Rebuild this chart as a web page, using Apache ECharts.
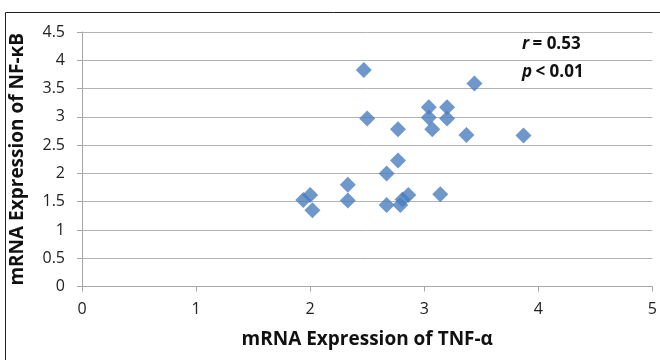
<!DOCTYPE html>
<html>
<head>
<meta charset="utf-8">
<script src="https://cdn.jsdelivr.net/npm/echarts@6/dist/echarts.min.js"></script>
<style>
  html, body { margin: 0; padding: 0; background: #fff; }
  #chart { width: 660px; height: 360px; }
</style>
</head>
<body>
<div id="chart"></div>
<script>
// TNF-α (x) vs NF-κB (y) mRNA expression
const tnfValues = [1.94, 2.0, 2.02, 2.33, 2.33, 2.47, 2.5, 2.67, 2.67, 2.77, 2.77, 2.79, 2.81, 2.86,
  3.04, 3.04, 3.07, 3.14, 3.2, 3.2, 3.37, 3.44, 3.87];
const nfkbValues = [1.53, 1.62, 1.35, 1.8, 1.52, 3.83, 2.97, 2.0, 1.44, 2.78, 2.23, 1.44, 1.54, 1.62,
  3.17, 2.99, 2.78, 1.63, 3.17, 2.97, 2.68, 3.59, 2.67];
const xTicks = [0, 1, 2, 3, 4, 5];
const yTicks = [0, 0.5, 1, 1.5, 2, 2.5, 3, 3.5, 4, 4.5];
const statR = '0.53';
const statP = '0.01';

const points = tnfValues.map((x, i) => [x, nfkbValues[i]]);

const chart = echarts.init(document.getElementById('chart'));
const font = 'Open Sans, Liberation Sans, sans-serif';

chart.setOption({
  animation: false,
  graphic: [
    {
      type: 'rect',
      shape: { x: 5.5, y: 12.5, width: 700, height: 400 },
      style: { fill: 'none', stroke: '#222', lineWidth: 1 }
    },
    {
      type: 'text', left: 522, top: 36,
      style: {
        text: '{i|r} {b|= ' + statR + '}',
        rich: {
          i: { fontStyle: 'italic', fontWeight: 'bold', fontSize: 17, fontFamily: font, fill: '#111' },
          b: { fontWeight: 'bold', fontSize: 17, fontFamily: font, fill: '#111' }
        }
      }
    },
    {
      type: 'text', left: 522, top: 64,
      style: {
        text: '{i|p} {b|< ' + statP + '}',
        rich: {
          i: { fontStyle: 'italic', fontWeight: 'bold', fontSize: 17, fontFamily: font, fill: '#111' },
          b: { fontWeight: 'bold', fontSize: 17, fontFamily: font, fill: '#111' }
        }
      }
    }
  ],
  grid: { left: 82, top: 32, width: 576, height: 254.5 },
  xAxis: {
    type: 'value',
    min: xTicks[0],
    max: xTicks[xTicks.length - 1],
    interval: 1,
    name: 'mRNA Expression of TNF-α',
    nameLocation: 'middle',
    nameGap: 44,
    nameTextStyle: { fontSize: 19, fontWeight: 'bold', fontFamily: font, color: '#111' },
    axisLine: { lineStyle: { color: '#a6a6a6' } },
    axisTick: { show: true, length: 5, lineStyle: { color: '#a6a6a6' } },
    axisLabel: { fontSize: 16, fontFamily: font, color: '#222', margin: 15, showMaxLabel: true },
    splitLine: { show: false }
  },
  yAxis: {
    type: 'value',
    min: yTicks[0],
    max: yTicks[yTicks.length - 1],
    interval: 0.5,
    name: 'mRNA Expression of NF-κB',
    nameLocation: 'middle',
    nameGap: 55,
    nameTextStyle: { fontSize: 19, fontWeight: 'bold', fontFamily: font, color: '#111' },
    axisLine: { show: true, lineStyle: { color: '#a6a6a6' } },
    axisTick: { show: true, length: 5, lineStyle: { color: '#a6a6a6' } },
    axisLabel: { fontSize: 16, fontFamily: font, color: '#222', margin: 17 },
    splitLine: { show: true, lineStyle: { color: '#b3b3b3', width: 1 } }
  },
  series: [{
    type: 'scatter',
    symbol: 'diamond',
    symbolSize: 16,
    itemStyle: { color: '#4a7ebe' },
    data: points
  }]
});
</script>
</body>
</html>
